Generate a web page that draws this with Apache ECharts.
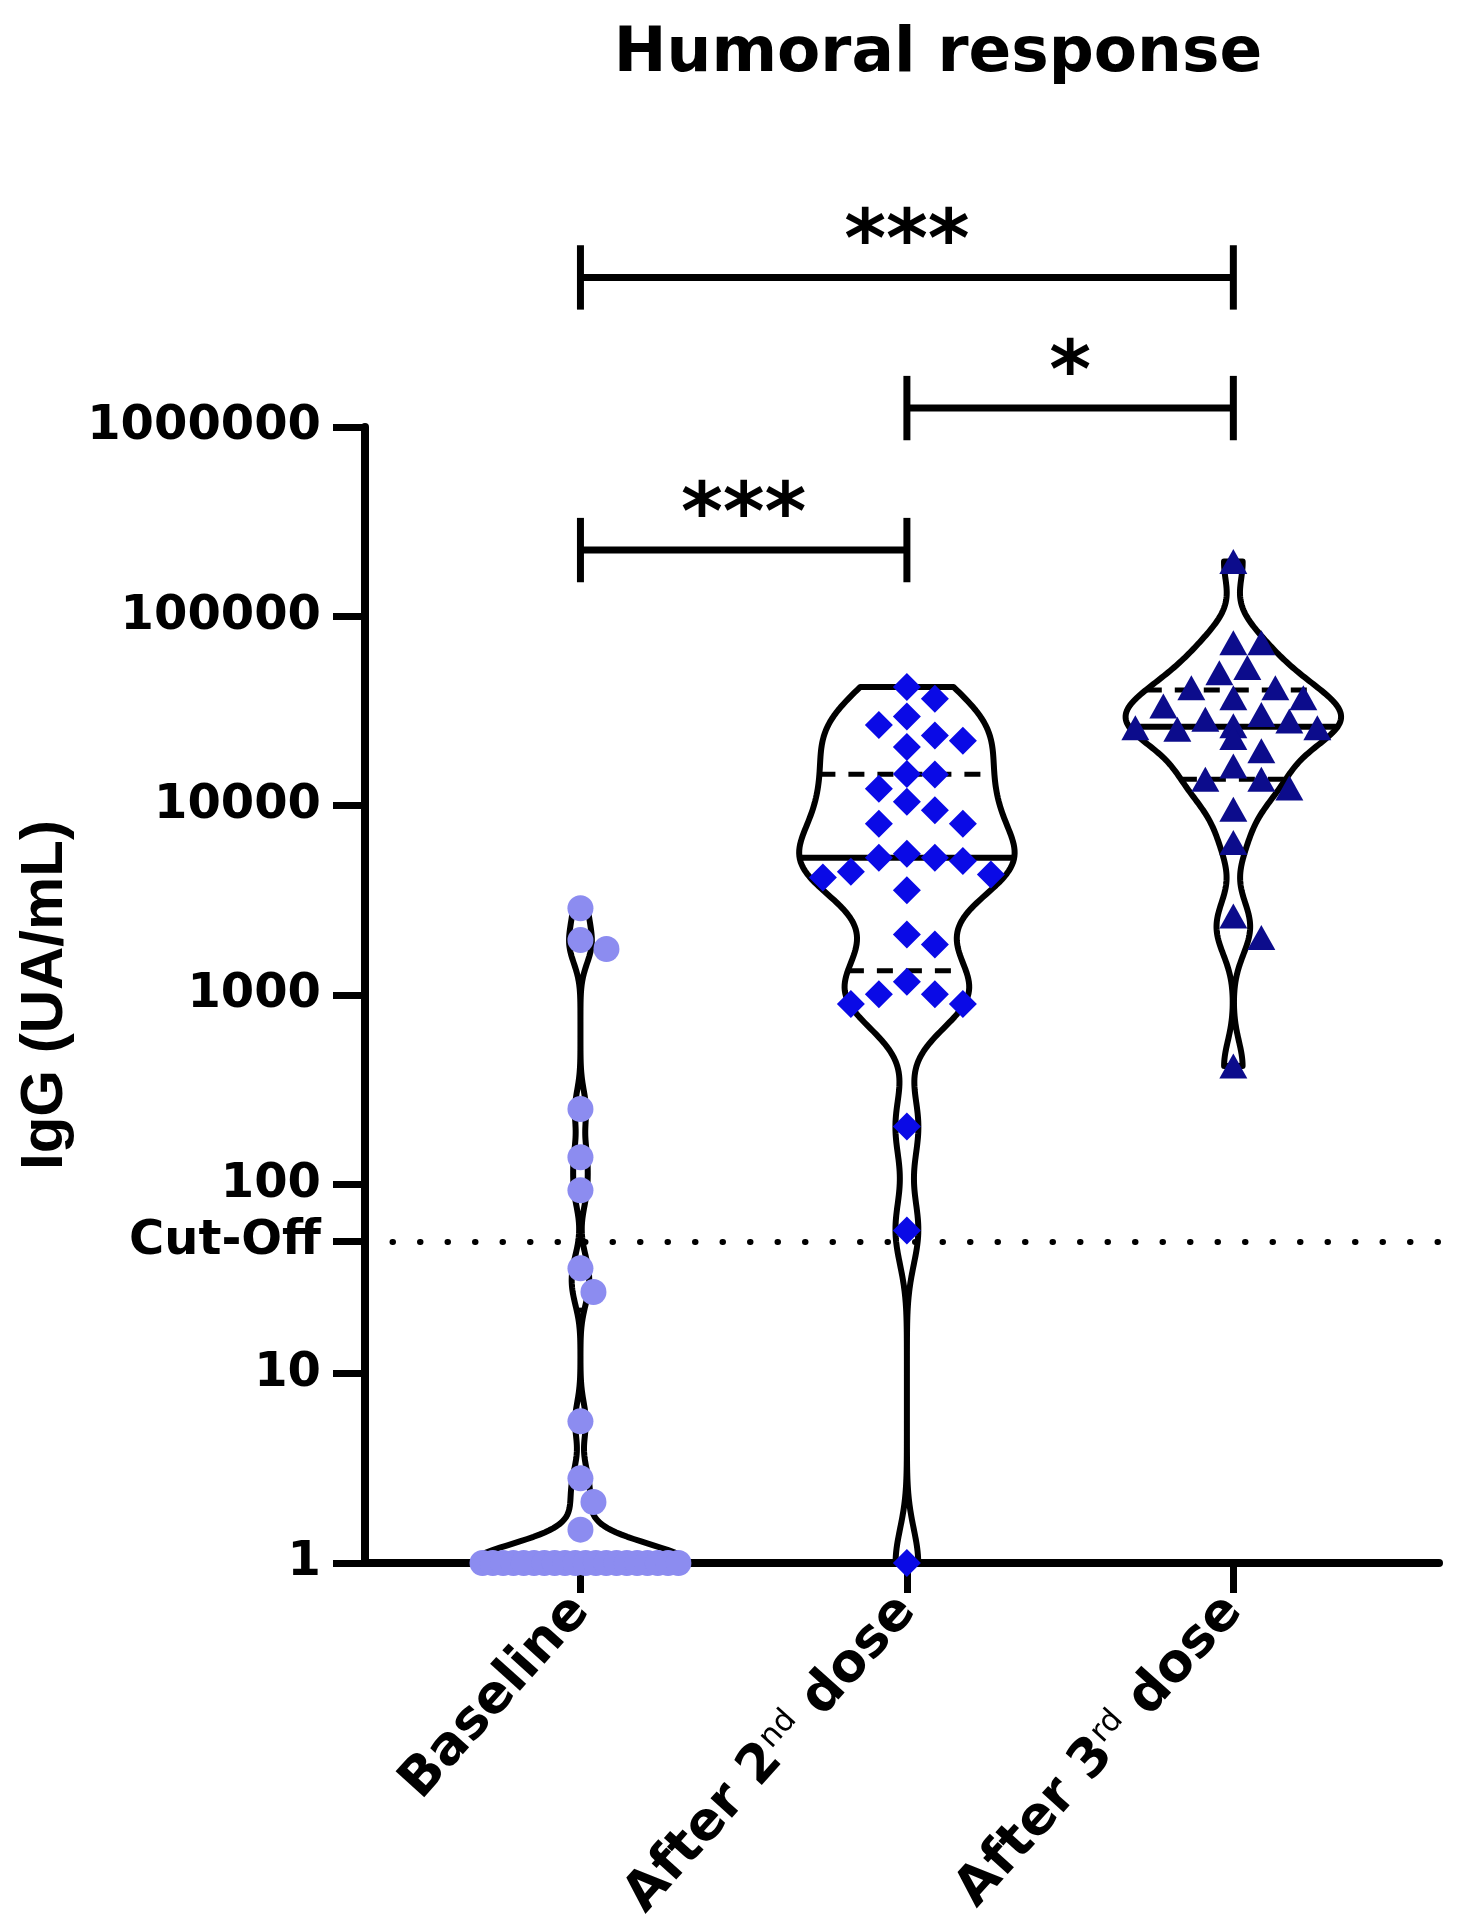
<!DOCTYPE html>
<html><head><meta charset="utf-8">
<script src="https://cdn.jsdelivr.net/npm/echarts@6/dist/echarts.min.js"></script>
<style>html,body{margin:0;padding:0;background:#fff}#c{width:1476px;height:1928px}</style>
</head><body><div id="c"></div><script>
// ---------- data ----------
const categories = ['Baseline', 'After 2nd dose', 'After 3rd dose'];
const baseline = [1,1,1,1,1,1,1,1,1,1,1,1,1,1,1,1,1,1,1,1,
  1.5, 2.1, 2.8, 5.6, 27, 36, 93, 139, 250, 1750, 1950, 2870];
const after2 = [42400, 36700, 29600, 26700, 23500, 22000, 20400, 14700, 14600, 12300,
  10500, 9450, 8030, 8030, 5570, 5300, 5300, 5100, 4480, 4330, 4170, 3570, 2090, 1850,
  1175, 1010, 1010, 897, 897, 202, 57, 1];
const after3 = [195000, 72600, 72600, 53600, 50400, 42000, 42000, 37100, 37100, 33600,
  30300, 28600, 28000, 26400, 25800, 25800, 25300, 22900, 19500, 16200, 13800, 13800,
  12400, 9560, 6380, 2610, 2010, 422];
const yTicks = [1, 10, 100, 1000, 10000, 100000, 1000000];
const cutOff = 50;
const comparisons = [
  {from: 0, to: 2, label: '***'},
  {from: 1, to: 2, label: '*'},
  {from: 0, to: 1, label: '***'}
];

// ---------- layout / style ----------
const W = 1476, H = 1928;
const GRID = {left: 365, right: 37, top: 427, bottom: 365};
const X_MIN = -0.66, X_MAX = 2.63;
const pxPerCat = (W - GRID.left - GRID.right) / (X_MAX - X_MIN);
const pxPerDec = (H - GRID.top - GRID.bottom) / 6;
const bracketLevels = [{line: 6.79, text: 6.96}, {line: 6.10, text: 6.27}, {line: 5.35, text: 5.52}]; // log10 heights
const bandwidths = [0.1, 0.18, 0.13];
const VIOLIN_HALF = 0.33;
const colors = ['#8C8CF0', '#0A0AE6', '#0C0C8C'];
const FONT = 'DejaVu Sans';

const groups = [baseline, after2, after3];

function kdeProfile(vals, h, maxHalf) {
  const L = vals.map(v => Math.log10(v));
  const lo = Math.min(...L), hi = Math.max(...L);
  const N = 300, pts = [];
  for (let i = 0; i <= N; i++) {
    const y = lo + (hi - lo) * i / N;
    let d = 0;
    for (const l of L) { const z = (y - l) / h; d += Math.exp(-0.5 * z * z); }
    pts.push([y, d]);
  }
  const mx = Math.max(...pts.map(p => p[1]));
  return pts.map(p => [p[0], p[1] / mx * maxHalf]);
}
function widthAt(prof, ly) {
  if (ly < prof[0][0] || ly > prof[prof.length - 1][0]) return 0;
  for (let i = 1; i < prof.length; i++) {
    if (prof[i][0] >= ly) {
      const a = prof[i - 1], b = prof[i];
      const f = (ly - a[0]) / ((b[0] - a[0]) || 1);
      return a[1] + f * (b[1] - a[1]);
    }
  }
  return prof[prof.length - 1][1];
}
function quantile(vals, p) {
  const s = vals.slice().sort((a, b) => a - b), n = s.length;
  let r = (n + 1) * p - 1; r = Math.max(0, Math.min(n - 1, r));
  const i = Math.floor(r), f = r - i;
  return i + 1 < n ? s[i] + f * (s[i + 1] - s[i]) : s[i];
}
// beeswarm layout computed from the values (greedy, half-step lattice)
function swarm(vals, center, markerPx, maxHalf) {
  const maxPx = maxHalf * pxPerCat, half = markerPx / 2;
  const placed = [], out = [], done = new Set(), counts = {};
  vals.forEach(v => { counts[v] = (counts[v] || 0) + 1; });
  Object.keys(counts).forEach(k => {
    const n = counts[k];
    if (n * markerPx > 2 * maxPx + markerPx) {
      const v = +k, step = 2 * maxPx / (n - 1);
      for (let i = 0; i < n; i++) {
        const x = (i - (n - 1) / 2) * step;
        placed.push([x, Math.log10(v) * pxPerDec]);
        out.push([center + x / pxPerCat, v]);
      }
      done.add(v);
    }
  });
  vals.slice().sort((a, b) => b - a).forEach(v => {
    if (done.has(v)) return;
    const y = Math.log10(v) * pxPerDec;
    for (let k = 0; ; k++) {
      const cands = k === 0 ? [0] : [k * half, -k * half];
      let ok = null;
      for (const x of cands) {
        if (placed.every(p => Math.hypot(p[0] - x, p[1] - y) >= markerPx * 0.95)) { ok = x; break; }
      }
      if (ok !== null || k * half > maxPx) {
        const x = ok !== null ? ok : 0;
        placed.push([x, y]); out.push([center + x / pxPerCat, v]);
        break;
      }
    }
  });
  return out;
}

const profiles = groups.map((g, i) => kdeProfile(g, bandwidths[i], VIOLIN_HALF));
const stats = groups.map(g => ({q1: quantile(g, 0.25), med: quantile(g, 0.5), q3: quantile(g, 0.75)}));
const markerSizes = [26, 28, 28];
const points = groups.map((g, i) => swarm(g, i, markerSizes[i], 0.30));

const labelFmt = ['{b|Baseline}', '{b|After 2}{s|nd}{b| dose}', '{b|After 3}{s|rd}{b| dose}'];

const chart = echarts.init(document.getElementById('c'), null, {renderer: 'canvas'});
chart.setOption({
  animation: false,
  backgroundColor: '#fff',
  title: {
    text: 'Humoral response', left: 933, top: 18, textAlign: 'center',
    textStyle: {fontFamily: FONT, fontWeight: 'bold', fontSize: 63, color: '#000'}
  },
  grid: GRID,
  xAxis: {
    type: 'value', min: X_MIN, max: X_MAX,
    axisLine: {show: true, onZero: false, lineStyle: {color: '#000', width: 8}},
    axisTick: {show: true, customValues: [0, 1, 2], length: 30, lineStyle: {color: '#000', width: 7}},
    axisLabel: {
      customValues: [0, 1, 2], rotate: 48, margin: 40,
      formatter: v => labelFmt[Math.round(v)],
      rich: {
        b: {fontFamily: FONT, fontWeight: 'bold', fontSize: 53, color: '#000'},
        s: {fontFamily: FONT, fontWeight: 'normal', fontSize: 31, color: '#000', verticalAlign: 'top'}
      }
    },
    splitLine: {show: false}
  },
  yAxis: {
    type: 'log', logBase: 10, min: 1, max: 1000000,
    name: 'IgG (UA/mL)', nameLocation: 'middle', nameGap: 290, nameRotate: 90,
    nameTextStyle: {fontFamily: 'Liberation Sans', fontWeight: 'bold', fontSize: 60, color: '#000'},
    axisLine: {show: true, onZero: false, lineStyle: {color: '#000', width: 8}},
    axisTick: {show: true, customValues: yTicks.concat([cutOff]), length: 32, lineStyle: {color: '#000', width: 7}},
    axisLabel: {
      customValues: yTicks.concat([cutOff]), margin: 44,
      formatter: v => (Math.round(v) === cutOff ? 'Cut-Off' : String(Math.round(v))),
      fontFamily: FONT, fontWeight: 'bold', fontSize: 48, color: '#000'
    },
    splitLine: {show: false}, minorTick: {show: false}
  },
  series: [
    {
      type: 'custom', z: 2, silent: true,
      data: [[0, 1], [1, 1], [2, 1]],
      renderItem: (params, api) => {
        const g = params.dataIndex, prof = profiles[g];
        const right = prof.map(([ly, w]) => api.coord([g + w, Math.pow(10, ly)]));
        const left = prof.slice().reverse().map(([ly, w]) => api.coord([g - w, Math.pow(10, ly)]));
        const children = [{
          type: 'polygon', shape: {points: right.concat(left)},
          style: {fill: 'rgba(0,0,0,0)', stroke: '#000', lineWidth: 6, lineJoin: 'round'}
        }];
        const st = stats[g];
        [['q1', [16, 13], 5], ['q3', [16, 13], 5], ['med', null, 6]].forEach(([k, dash, lw]) => {
          const v = st[k], w = widthAt(prof, Math.log10(v));
          if (w <= 0.01) return;
          const a = api.coord([g - w, v]), b = api.coord([g + w, v]);
          children.push({type: 'line', shape: {x1: a[0], y1: a[1], x2: b[0], y2: b[1]},
            style: {stroke: '#000', lineWidth: lw, lineDash: dash || null}});
        });
        return {type: 'group', children};
      }
    },
    {
      type: 'scatter', name: categories[0], z: 3, data: points[0], symbol: 'circle', symbolSize: markerSizes[0],
      itemStyle: {color: colors[0], opacity: 1},
      markLine: {
        silent: true, symbol: ['none', 'none'], label: {show: false}, z: 1,
        lineStyle: {color: '#000', width: 6, type: [0.5, 27], cap: 'round'},
        data: [{yAxis: cutOff}]
      }
    },
    {type: 'scatter', name: categories[1], z: 3, data: points[1], symbol: 'diamond', symbolSize: markerSizes[1],
      itemStyle: {color: colors[1], opacity: 1}},
    {type: 'scatter', name: categories[2], z: 3, data: points[2], symbol: 'triangle', symbolSize: [markerSizes[2], 25],
      itemStyle: {color: colors[2], opacity: 1}},
    {
      type: 'custom', z: 4, silent: true, clip: false,
      data: comparisons.map(c => [c.from, 1]),
      renderItem: (params, api) => {
        const c = comparisons[params.dataIndex], lv = bracketLevels[params.dataIndex];
        const y = Math.pow(10, lv.line);
        const a = api.coord([c.from, y]), b = api.coord([c.to, y]);
        const capTop = api.coord([c.from, y * Math.pow(10, 0.17)])[1];
        const capBot = api.coord([c.from, y / Math.pow(10, 0.17)])[1];
        const t = api.coord([(c.from + c.to) / 2, Math.pow(10, lv.text)]);
        const st = {stroke: '#000', lineWidth: 7};
        return {type: 'group', children: [
          {type: 'line', shape: {x1: a[0], y1: a[1], x2: b[0], y2: b[1]}, style: st},
          {type: 'line', shape: {x1: a[0], y1: capTop, x2: a[0], y2: capBot}, style: st},
          {type: 'line', shape: {x1: b[0], y1: capTop, x2: b[0], y2: capBot}, style: st},
          {type: 'text', x: t[0], y: t[1], style: {text: c.label, fill: '#000', fontFamily: FONT,
            fontWeight: 'bold', fontSize: 80, align: 'center', verticalAlign: 'middle'}}
        ]};
      }
    }
  ]
});
</script></body></html>
